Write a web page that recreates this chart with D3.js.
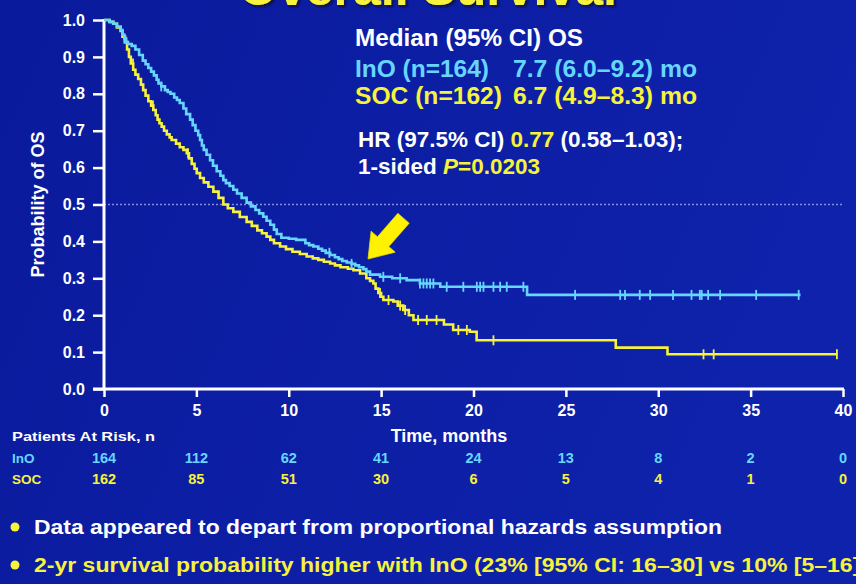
<!DOCTYPE html>
<html>
<head>
<meta charset="utf-8">
<script src="https://cdn.jsdelivr.net/npm/d3@7"></script>
<style>
  html, body { margin: 0; padding: 0; background: #0b1ca2; }
  svg { display: block; }
  text { font-family: "Liberation Sans", Arial, sans-serif; font-weight: bold; }
</style>
</head>
<body>
<svg id="chart" width="856" height="584"></svg>
<script>
// Kaplan–Meier overall survival, months vs probability
const months = [0, 5, 10, 15, 20, 25, 30, 35, 40];
const probTicks = [0, 0.1, 0.2, 0.3, 0.4, 0.5, 0.6, 0.7, 0.8, 0.9, 1.0];

// step points [time (months), survival probability]
const inoSteps = [
  [0, 1.0], [0.3, 0.995], [0.5, 0.99], [0.7, 0.982], [0.9, 0.973], [1.0, 0.96], [1.1, 0.95],
  [1.2, 0.94], [1.3, 0.935], [1.5, 0.93], [1.7, 0.92], [1.9, 0.905], [2.1, 0.89],
  [2.25, 0.88], [2.4, 0.87], [2.55, 0.86], [2.7, 0.85], [2.85, 0.838], [2.95, 0.828],
  [3.1, 0.82], [3.3, 0.81], [3.45, 0.805], [3.6, 0.80], [3.8, 0.79], [3.95, 0.783],
  [4.1, 0.775], [4.3, 0.76], [4.45, 0.745], [4.66, 0.73], [4.8, 0.715], [4.95, 0.70],
  [5.1, 0.688], [5.2, 0.675], [5.3, 0.66], [5.4, 0.648], [5.55, 0.635], [5.74, 0.62],
  [5.9, 0.605], [6.1, 0.59], [6.3, 0.578], [6.46, 0.566], [6.6, 0.558], [6.8, 0.55],
  [7.0, 0.54], [7.2, 0.53], [7.45, 0.518], [7.72, 0.505], [7.95, 0.495], [8.2, 0.485],
  [8.4, 0.476], [8.62, 0.467], [8.8, 0.456], [9.0, 0.445], [9.2, 0.432], [9.35, 0.42],
  [9.6, 0.41], [10.0, 0.407], [10.4, 0.404], [10.9, 0.395], [11.1, 0.39], [11.33, 0.386],
  [11.6, 0.38], [11.8, 0.375], [12.0, 0.369], [12.24, 0.363], [12.5, 0.357], [12.7, 0.352],
  [12.9, 0.347], [13.14, 0.343], [13.4, 0.339], [13.6, 0.335], [13.8, 0.33], [14.04, 0.325],
  [14.2, 0.318], [14.4, 0.31], [14.94, 0.304], [15.6, 0.3], [16.38, 0.295], [17.1, 0.286],
  [18.2, 0.277], [22.9, 0.255], [37.7, 0.255]
];
const socSteps = [
  [0, 1.0], [0.3, 0.995], [0.5, 0.99], [0.7, 0.98], [0.9, 0.97], [1.0, 0.955], [1.14, 0.94],
  [1.25, 0.92], [1.35, 0.90], [1.45, 0.882], [1.58, 0.865], [1.7, 0.852], [1.85, 0.84],
  [2.0, 0.825], [2.12, 0.81], [2.25, 0.795], [2.4, 0.78], [2.55, 0.768], [2.67, 0.756],
  [2.8, 0.742], [2.9, 0.73], [3.0, 0.72], [3.12, 0.711], [3.25, 0.70], [3.4, 0.69],
  [3.55, 0.682], [3.66, 0.675], [3.9, 0.665], [4.1, 0.655], [4.3, 0.648], [4.48, 0.639],
  [4.6, 0.625], [4.75, 0.61], [4.9, 0.597], [5.02, 0.585], [5.2, 0.572], [5.4, 0.56],
  [5.65, 0.548], [5.92, 0.535], [6.2, 0.518], [6.46, 0.50], [6.7, 0.49], [7.0, 0.48],
  [7.35, 0.466], [7.72, 0.453], [8.0, 0.442], [8.3, 0.43], [8.55, 0.422], [8.8, 0.413],
  [9.0, 0.404], [9.2, 0.395], [9.53, 0.386], [9.85, 0.379], [10.2, 0.372], [10.6, 0.366],
  [10.97, 0.359], [11.3, 0.354], [11.6, 0.35], [11.9, 0.345], [12.24, 0.34], [12.5, 0.335],
  [12.8, 0.33], [13.2, 0.326], [13.5, 0.322], [13.86, 0.313], [14.2, 0.30], [14.4, 0.293],
  [14.58, 0.286], [14.7, 0.272], [14.85, 0.26], [15.0, 0.25], [15.12, 0.241], [15.66, 0.237],
  [15.9, 0.226], [16.2, 0.214], [16.5, 0.2], [16.75, 0.187], [18.4, 0.175], [18.9, 0.16],
  [19.8, 0.155], [20.17, 0.132], [27.7, 0.112], [30.5, 0.094], [39.7, 0.094]
];

// censoring times (months)
const inoCensored = [1.1, 3.1, 12.2, 13.4, 15.12, 16.03, 17.1, 17.29, 17.47, 17.65, 17.83,
  18.55, 19.45, 20.18, 20.36, 20.54, 21.08, 21.44, 21.8, 22.7, 25.5, 27.94, 28.2, 29.0,
  29.56, 30.8, 31.8, 32.25, 32.35, 32.7, 33.35, 35.3, 37.6];
const socCensored = [1.57, 2.65, 4.55, 14.94, 15.4, 16.03, 16.3, 17.0, 17.47, 18.0,
  19.18, 19.64, 21.08, 32.45, 33.0, 39.67];

// patients at risk at each x tick
const atRiskIno = [164, 112, 62, 41, 24, 13, 8, 2, 0];
const atRiskSoc = [162, 85, 51, 30, 6, 5, 4, 1, 0];

const CYAN = "#66d6ff";
const YELLOW = "#f7f23a";
const WHITE = "#ffffff";

const svg = d3.select("#chart");

// background
const defs = svg.append("defs");
const bg = defs.append("linearGradient").attr("id", "bg").attr("x1", 0).attr("y1", 0).attr("x2", 1).attr("y2", 0.3);
bg.append("stop").attr("offset", "0%").attr("stop-color", "#0a1a9c");
bg.append("stop").attr("offset", "100%").attr("stop-color", "#0e22ab");
svg.append("rect").attr("width", 856).attr("height", 584).attr("fill", "url(#bg)");

const glow = defs.append("filter").attr("id", "glow").attr("x", "-5%").attr("y", "-5%").attr("width", "110%").attr("height", "110%");
glow.append("feGaussianBlur").attr("stdDeviation", 0.6);

const shadow = defs.append("filter").attr("id", "shadow").attr("x", "-5%").attr("y", "-20%").attr("width", "110%").attr("height", "140%");
shadow.append("feDropShadow").attr("dx", 2).attr("dy", 2).attr("stdDeviation", 0.8)
  .attr("flood-color", "#101030").attr("flood-opacity", 0.9);

const x = d3.scaleLinear().domain([0, 40]).range([104, 843]);
const y = d3.scaleLinear().domain([0, 1]).range([389, 20]);

// slide title, mostly above the frame
svg.append("text")
  .attr("x", 239).attr("y", 5)
  .attr("font-size", 50)
  .attr("fill", YELLOW)
  .attr("filter", "url(#shadow)")
  .text("Overall Survival");

// reference line at 0.5
svg.append("line")
  .attr("x1", x(0)).attr("x2", x(40))
  .attr("y1", y(0.5)).attr("y2", y(0.5))
  .attr("stroke", "#a9b4f0").attr("stroke-width", 1.5)
  .attr("stroke-dasharray", "2,2").attr("opacity", 0.75);

// axes
const yAxis = d3.axisLeft(y).tickValues(probTicks).tickFormat(d3.format(".1f"))
  .tickSize(11).tickPadding(8).tickSizeOuter(0);
const gy = svg.append("g").attr("transform", `translate(${x(0)},0)`).call(yAxis);
gy.select(".domain").remove();
gy.selectAll(".tick line").attr("stroke", WHITE).attr("stroke-width", 2.5);
gy.selectAll(".tick text").attr("fill", WHITE).attr("font-size", 16)
  .attr("font-family", "Liberation Sans, Arial, sans-serif").attr("font-weight", "bold");

const xAxis = d3.axisBottom(x).tickValues(months).tickFormat(d3.format("d"))
  .tickSize(8).tickPadding(8).tickSizeOuter(0);
const gx = svg.append("g").attr("transform", `translate(0,${y(0)})`).call(xAxis);
gx.select(".domain").remove();
gx.selectAll(".tick line").attr("stroke", WHITE).attr("stroke-width", 2.5);
gx.selectAll(".tick text").attr("fill", WHITE).attr("font-size", 16)
  .attr("font-family", "Liberation Sans, Arial, sans-serif").attr("font-weight", "bold");

svg.append("line").attr("x1", x(0)).attr("x2", x(0)).attr("y1", y(1) - 1).attr("y2", y(0) + 1)
  .attr("stroke", WHITE).attr("stroke-width", 3);
svg.append("line").attr("x1", x(0) - 11).attr("x2", x(40) + 1).attr("y1", y(0)).attr("y2", y(0))
  .attr("stroke", WHITE).attr("stroke-width", 3);

// axis titles
svg.append("text")
  .attr("transform", `translate(44,${y(0.5)}) rotate(-90)`)
  .attr("text-anchor", "middle").attr("fill", WHITE).attr("font-size", 18)
  .text("Probability of OS");
svg.append("text")
  .attr("x", 449).attr("y", 442)
  .attr("text-anchor", "middle").attr("fill", WHITE).attr("font-size", 18)
  .text("Time, months");

// survival curves
const line = d3.line().x(d => x(d[0])).y(d => y(d[1])).curve(d3.curveStepAfter);
function survivalAt(steps, t) {
  let p = steps[0][1];
  for (const s of steps) { if (s[0] <= t) p = s[1]; else break; }
  return p;
}
function drawCurve(steps, censored, color) {
  const g = svg.append("g").attr("filter", "url(#glow)");
  g.append("path").datum(steps).attr("d", line)
    .attr("fill", "none").attr("stroke", color).attr("stroke-width", 2.6)
    .attr("stroke-linejoin", "miter");
  g.selectAll("line.cens").data(censored).join("line")
    .attr("class", "cens")
    .attr("x1", d => x(d)).attr("x2", d => x(d))
    .attr("y1", d => y(survivalAt(steps, d)) - 5)
    .attr("y2", d => y(survivalAt(steps, d)) + 5)
    .attr("stroke", color).attr("stroke-width", 1.8);
}
drawCurve(socSteps, socCensored, YELLOW);
drawCurve(inoSteps, inoCensored, CYAN);

// arrow pointing at the crossing
(function drawArrow() {
  const tip = [368, 259];
  const dir = [-0.658, 0.754];
  const n = [dir[1], -dir[0]];
  const headLen = 23, headHalf = 16, shaftHalf = 7.5, total = 54;
  const B = [tip[0] - headLen * dir[0], tip[1] - headLen * dir[1]];
  const E = [tip[0] - total * dir[0], tip[1] - total * dir[1]];
  const pt = (c, k) => [c[0] + k * n[0], c[1] + k * n[1]];
  const pts = [tip, pt(B, headHalf), pt(B, shaftHalf), pt(E, shaftHalf), pt(E, -shaftHalf), pt(B, -shaftHalf), pt(B, -headHalf)];
  svg.append("polygon").attr("points", pts.map(p => p.join(",")).join(" "))
    .attr("fill", "#fff200").attr("stroke", "#e8d800").attr("stroke-width", 0.8);
})();

// statistics block
const stats = svg.append("g");
stats.append("text").attr("x", 355).attr("y", 46).attr("fill", WHITE).attr("font-size", 23.5)
  .attr("textLength", 228).attr("lengthAdjust", "spacingAndGlyphs")
  .text("Median (95% CI) OS");
stats.append("text").attr("x", 355).attr("y", 77).attr("fill", CYAN).attr("font-size", 23)
  .attr("textLength", 134).attr("lengthAdjust", "spacingAndGlyphs").text("InO (n=164)");
stats.append("text").attr("x", 513).attr("y", 77).attr("fill", CYAN).attr("font-size", 23)
  .attr("textLength", 184).attr("lengthAdjust", "spacingAndGlyphs").text("7.7 (6.0–9.2) mo");
stats.append("text").attr("x", 355).attr("y", 104).attr("fill", YELLOW).attr("font-size", 23)
  .attr("textLength", 147).attr("lengthAdjust", "spacingAndGlyphs").text("SOC (n=162)");
stats.append("text").attr("x", 513).attr("y", 104).attr("fill", YELLOW).attr("font-size", 23)
  .attr("textLength", 184).attr("lengthAdjust", "spacingAndGlyphs").text("6.7 (4.9–8.3) mo");

const hr = stats.append("text").attr("x", 358).attr("y", 147).attr("font-size", 22.5).attr("fill", WHITE);
hr.append("tspan").text("HR (97.5% CI) ");
hr.append("tspan").attr("fill", YELLOW).text("0.77");
hr.append("tspan").text(" (0.58–1.03);");
const pv = stats.append("text").attr("x", 358).attr("y", 174).attr("font-size", 22.5).attr("fill", WHITE);
pv.append("tspan").text("1-sided ");
pv.append("tspan").attr("fill", YELLOW).attr("font-style", "italic").text("P");
pv.append("tspan").attr("fill", YELLOW).text("=0.0203");

// patients at risk table
svg.append("text").attr("x", 12).attr("y", 441).attr("fill", WHITE).attr("font-size", 13)
  .attr("textLength", 143).attr("lengthAdjust", "spacingAndGlyphs")
  .text("Patients At Risk, n");
svg.append("text").attr("x", 12).attr("y", 463).attr("fill", CYAN).attr("font-size", 13.5).text("InO");
svg.append("text").attr("x", 12).attr("y", 484).attr("fill", YELLOW).attr("font-size", 13.5).text("SOC");
svg.append("g").selectAll("text").data(atRiskIno).join("text")
  .attr("x", (d, i) => x(months[i])).attr("y", 463)
  .attr("text-anchor", "middle").attr("fill", CYAN).attr("font-size", 14.5).text(d => d);
svg.append("g").selectAll("text").data(atRiskSoc).join("text")
  .attr("x", (d, i) => x(months[i])).attr("y", 484)
  .attr("text-anchor", "middle").attr("fill", YELLOW).attr("font-size", 14.5).text(d => d);

// bullet notes
const notes = [
  { text: "Data appeared to depart from proportional hazards assumption", color: WHITE, y: 534, len: 688 },
  { text: "2-yr survival probability higher with InO (23% [95% CI: 16–30] vs 10% [5–16])", color: YELLOW, y: 572, len: 834 }
];
notes.forEach(n => {
  svg.append("circle").attr("cx", 15).attr("cy", n.y - 7).attr("r", 4.5).attr("fill", YELLOW);
  svg.append("text").attr("x", 34).attr("y", n.y).attr("fill", n.color).attr("font-size", 20)
    .attr("textLength", n.len).attr("lengthAdjust", "spacingAndGlyphs").text(n.text);
});
</script>
</body>
</html>
